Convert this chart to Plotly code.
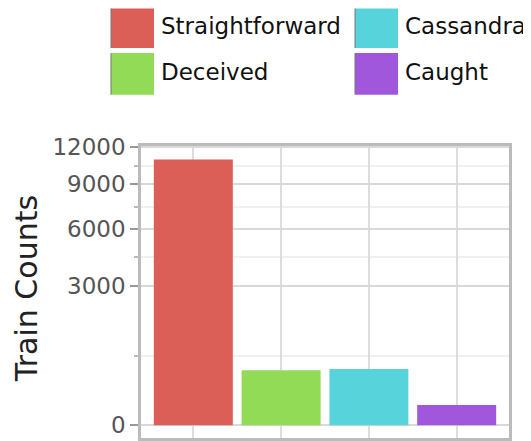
import numpy as np
import plotly.graph_objects as go

categories = ["Straightforward", "Deceived", "Cassandra", "Caught"]
counts = [10950, 472, 490, 64]
colors = ["#db5f57", "#91db57", "#57d3db", "#a157db"]
major_ticks = [0, 3000, 6000, 9000, 12000]
tick_labels = ["0", "3000", "6000", "9000", "12000"]

OFF = 8  # browser body margin
W, H = 531 - OFF, 441 - OFF
L, R, T, B = 141, 509, 145.7, 438  # plot area box in page pixels


def px(x):
    return (x - L) / (R - L)


def py(y):
    return (B - y) / (B - T)


sq_major = [float(np.sqrt(v)) for v in major_ticks]
sq_minor = [(a + b) / 2 for a, b in zip(sq_major[:-1], sq_major[1:])]

fig = go.Figure()
fig.add_trace(go.Bar(
    x=list(range(len(categories))),
    y=[float(np.sqrt(v)) for v in counts],
    marker=dict(color=colors, line=dict(width=0)),
    width=0.9,
    showlegend=False,
    hovertext=categories,
))

font_family = "DejaVu Sans"
fig.update_layout(
    width=W, height=H,
    margin=dict(l=L - OFF, r=W + OFF - R, t=T - OFF, b=H + OFF - B, pad=0),
    plot_bgcolor="white", paper_bgcolor="white",
    font=dict(family=font_family, size=23, color="#555555"),
    showlegend=False,
)
fig.update_xaxes(
    automargin=False,
    range=[-0.596, 3.596],
    tickvals=list(range(len(categories))),
    showticklabels=False,
    ticks="outside", ticklen=5, tickcolor="#aaaaaa", tickwidth=1.5,
    showgrid=True, gridcolor="#dddddd", gridwidth=1.5,
    showline=True, linecolor="#bbbbbb", linewidth=2.5, mirror=True,
    zeroline=False,
)
fig.update_yaxes(
    automargin=False,
    range=[-5, 110],
    tickvals=sq_major, ticktext=tick_labels,
    ticks="outside", ticklen=8, tickcolor="#999999", tickwidth=1.5,
    showgrid=True, gridcolor="#d9d9d9", gridwidth=1.5,
    minor=dict(tickvals=sq_minor, ticks="outside", ticklen=4, tickcolor="#bbbbbb",
               showgrid=True, gridcolor="#f0f0f0", gridwidth=1.5),
    showline=True, linecolor="#bbbbbb", linewidth=2.5, mirror=True,
    zeroline=False,
    tickfont=dict(size=23, color="#555555"),
)

# y axis title
fig.add_annotation(
    text="Train Counts", textangle=-90,
    xref="paper", yref="paper", x=px(26), y=py(289),
    xanchor="center", yanchor="middle", showarrow=False,
    font=dict(family=font_family, size=30, color="#222222"),
)

# legend (2 rows, column-major)
col_x = [111, 355]
row_y = [(8, 47.7), (52.7, 94.3)]
for i, (name, col) in enumerate(zip(categories, colors)):
    c, r = divmod(i, 2)
    x0 = col_x[c]
    y0, y1 = row_y[r]
    fig.add_shape(type="rect", xref="paper", yref="paper",
                  x0=px(x0), x1=px(x0 + 43), y0=py(y1), y1=py(y0),
                  fillcolor=col, line=dict(width=0), layer="above")
    fig.add_shape(type="line", xref="paper", yref="paper",
                  x0=px(x0), x1=px(x0), y0=py(y1), y1=py(y0),
                  line=dict(color="#777777", width=1), layer="above")
    fig.add_annotation(
        text=name, xref="paper", yref="paper",
        x=px(x0 + 48), y=py((y0 + y1) / 2 - 2),
        xanchor="left", yanchor="middle", showarrow=False,
        font=dict(family=font_family, size=23, color="#111111"),
    )

fig.write_html("out.html")
